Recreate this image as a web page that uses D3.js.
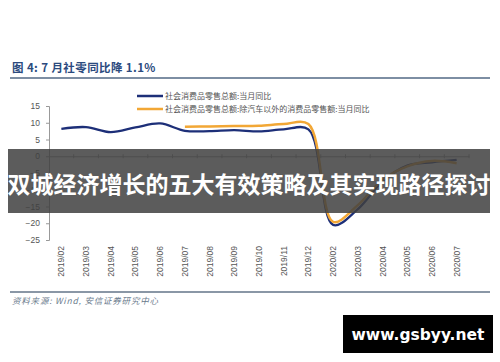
<!DOCTYPE html>
<html>
<head>
<meta charset="utf-8">
<script src="https://cdn.jsdelivr.net/npm/d3@7"></script>
<style>
  body { margin: 0; background: #fff; }
  svg { display: block; }
</style>
</head>
<body>
<div id="chart"></div>
<script>
// categories on the x axis
const months = ["2019/02", "2019/03", "2019/04", "2019/05", "2019/06", "2019/07", "2019/08", "2019/09",
  "2019/10", "2019/11", "2019/12", "2020/02", "2020/03", "2020/04", "2020/05", "2020/06", "2020/07"];
// 社会消费品零售总额:当月同比
const totalYoY = [8.2, 8.7, 7.2, 8.6, 9.8, 7.6, 7.5, 7.8, 7.4, 8.0, 8.0, -20.5, -15.8, -7.5, -2.8, -1.8, -1.1];
// 除汽车以外的消费品零售额:当月同比 (starts 2019/07)
const exAutoYoY = [null, null, null, null, null, 8.8, 8.9, 9.0, 9.1, 9.6, 9.6, -19.6, -14.6, -7.0, -3.0, -1.4, -2.1];
const yTicks = [15, 10, 5, 0, -5, -10, -15, -20, -25];
const legendLabels = ["社会消费品零售总额:当月同比", "社会消费品零售总额:除汽车以外的消费品零售额:当月同比"];

const W = 500, H = 362;
const cjk = "'Noto Sans CJK SC', 'Liberation Sans', sans-serif";
const latin = "'Liberation Sans', Arial, sans-serif";
const blue = "#1d2f78", orange = "#f2a735";

const svg = d3.select("#chart").append("svg")
  .attr("width", W).attr("height", H);

svg.append("rect").attr("width", W).attr("height", H).attr("fill", "#fff");

// title + rules
svg.append("text")
  .attr("x", 12).attr("y", 72)
  .attr("font-family", cjk).attr("font-weight", "bold")
  .attr("font-size", 11.5).attr("letter-spacing", 0.4).attr("fill", "#2b4a7e")
  .text("图 4: 7 月社零同比降 1.1%");
svg.append("line").attr("x1", 10).attr("x2", 490).attr("y1", 78).attr("y2", 78)
  .attr("stroke", "#7d8ea3").attr("stroke-width", 2);
svg.append("line").attr("x1", 10).attr("x2", 490).attr("y1", 292).attr("y2", 292)
  .attr("stroke", "#8a97a6").attr("stroke-width", 2);
svg.append("text")
  .attr("x", 12).attr("y", 304)
  .attr("font-family", cjk).attr("font-style", "italic")
  .attr("font-size", 8.5).attr("letter-spacing", 0.8).attr("fill", "#6a7a8c")
  .text("资料来源: Wind, 安信证券研究中心");

// scales
const x = d3.scaleBand().domain(months).range([49, 469]);
const y = d3.scaleLinear().domain([-25, 15]).range([240, 106]);
const cx = d => x(d) + x.bandwidth() / 2;

// y axis
const yAxis = svg.append("g")
  .attr("transform", "translate(49,0)")
  .call(d3.axisLeft(y).tickValues(yTicks).tickSize(3).tickPadding(6));
yAxis.select(".domain").attr("stroke", "#999");
yAxis.selectAll(".tick line").attr("stroke", "#999");
yAxis.selectAll(".tick text").attr("font-family", latin).attr("font-size", 8.5).attr("fill", "#555");

// x axis on the zero line, ticks at band edges
const xAxis = svg.append("g")
  .attr("transform", `translate(0,${y(0)})`)
  .call(d3.axisBottom(x).tickSize(0).tickFormat(""));
xAxis.select(".domain").attr("stroke", "#999");
xAxis.selectAll(".edge").data(months)
  .join("line")
  .attr("class", "edge")
  .attr("x1", (d, i) => x.range()[0] + (i + 1) * x.step())
  .attr("x2", (d, i) => x.range()[0] + (i + 1) * x.step())
  .attr("y1", -2).attr("y2", 2)
  .attr("stroke", "#999");

// rotated month labels below the plot
svg.append("g").selectAll("text").data(months).join("text")
  .attr("transform", d => `translate(${cx(d) + 3},246) rotate(-90)`)
  .attr("text-anchor", "end")
  .attr("font-family", latin).attr("font-size", 8.5).attr("fill", "#555")
  .text(d => d);

// lines
const line = d3.line()
  .defined(d => d[1] !== null)
  .x(d => cx(d[0]))
  .y(d => y(d[1]))
  .curve(d3.curveCatmullRom.alpha(0.5));

svg.append("path")
  .datum(months.map((m, i) => [m, totalYoY[i]]))
  .attr("d", line).attr("fill", "none")
  .attr("stroke", blue).attr("stroke-width", 2.3);
svg.append("path")
  .datum(months.map((m, i) => [m, exAutoYoY[i]]))
  .attr("d", line).attr("fill", "none")
  .attr("stroke", orange).attr("stroke-width", 2.5);

// legend
const legend = svg.append("g").attr("transform", "translate(137,96)");
[blue, orange].forEach((c, i) => {
  legend.append("line").attr("x1", 0).attr("x2", 26).attr("y1", i * 13).attr("y2", i * 13)
    .attr("stroke", c).attr("stroke-width", 2.5);
  legend.append("text").attr("x", 28).attr("y", i * 13 + 3)
    .attr("font-family", cjk).attr("font-size", 8).attr("fill", "#555")
    .text(legendLabels[i]);
});

// banner overlay
svg.append("rect").attr("x", 8).attr("y", 149).attr("width", 482).attr("height", 64)
  .attr("fill", "#404040").attr("opacity", 0.85);
svg.append("text")
  .attr("x", 249).attr("y", 193)
  .attr("text-anchor", "middle")
  .attr("font-family", cjk).attr("font-weight", "bold")
  .attr("font-size", 23).attr("fill", "#fff")
  .text("双城经济增长的五大有效策略及其实现路径探讨");

// watermark box
svg.append("rect").attr("x", 343).attr("y", 315).attr("width", 150).attr("height", 38).attr("fill", "#000");
svg.append("text")
  .attr("x", 418).attr("y", 340)
  .attr("text-anchor", "middle")
  .attr("font-family", "'DejaVu Sans', sans-serif").attr("font-weight", "bold")
  .attr("font-size", 15.5).attr("fill", "#fff")
  .text("www.gsbyy.net");
</script>
</body>
</html>
